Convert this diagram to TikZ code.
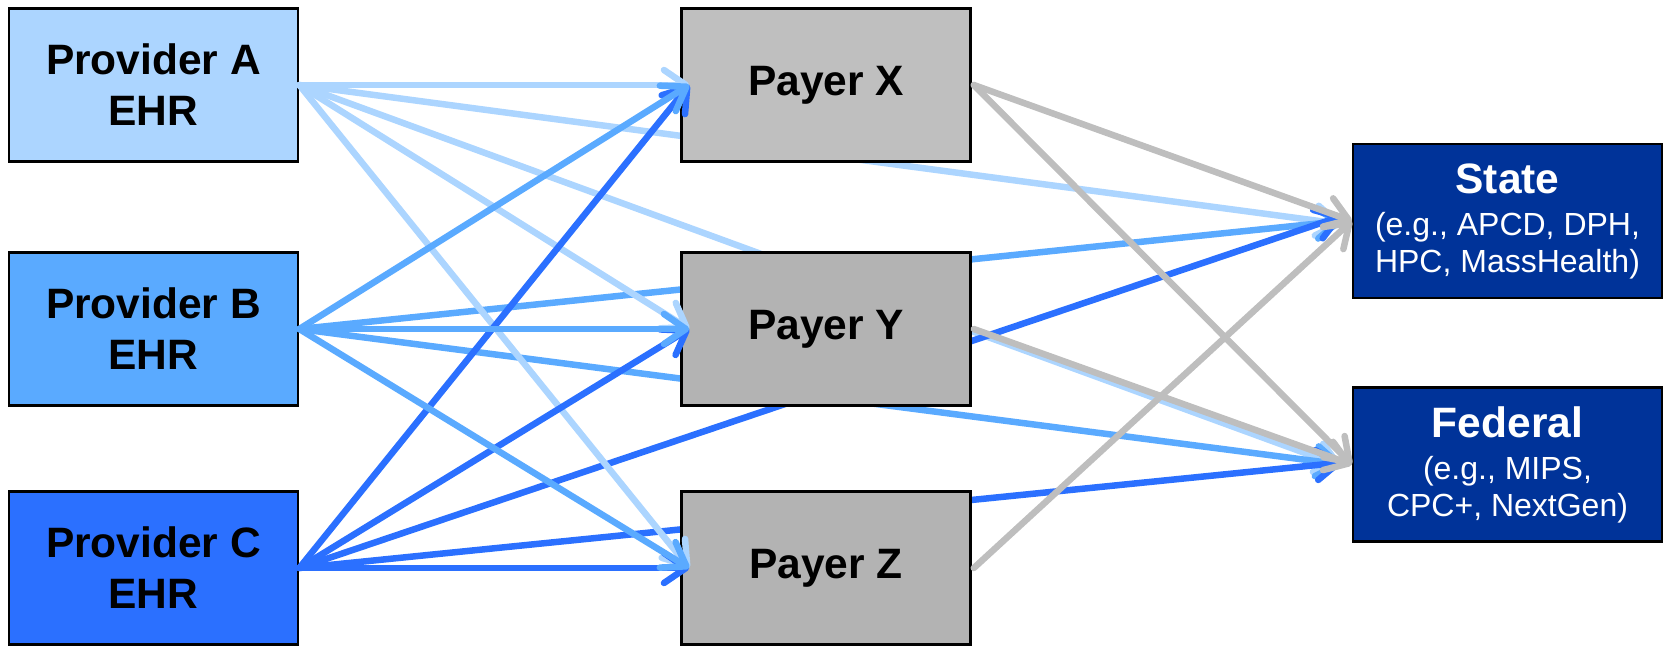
\documentclass[tikz,border=0pt]{standalone}
\usepackage{fontspec}
\setmainfont{Liberation Sans}
\usetikzlibrary{arrows.meta}
\pgfdeclarelayer{bg}
\pgfdeclarelayer{fg}
\pgfsetlayers{bg,main,fg}

\definecolor{provA}{RGB}{172,213,255}
\definecolor{provB}{RGB}{90,170,255}
\definecolor{provC}{RGB}{43,112,255}
\definecolor{payX}{RGB}{191,191,191}
\definecolor{payYZ}{RGB}{179,179,179}
\definecolor{gov}{RGB}{0,51,153}
\definecolor{flowgray}{RGB}{190,190,190}

\tikzset{
  box/.style={draw=black, line width=2.6pt, minimum width=289pt, minimum height=153pt,
    inner sep=0pt, align=center, font=\fontsize{42.5}{51}\selectfont\bfseries},
  govbox/.style={draw=black, line width=2.4pt, fill=gov, text=white, minimum width=309pt,
    minimum height=154pt, inner sep=0pt, align=center, font=\fontsize{32}{37}\selectfont},
  flow/.style={line width=6.5pt, line cap=round,
    -{Straight Barb[round, length=22pt, width=30pt]}},
  flowA/.style={flow, draw=provA},
  flowB/.style={flow, draw=provB},
  flowC/.style={flow, draw=provC},
  flowG/.style={flow, draw=flowgray},
}

\begin{document}
\begin{tikzpicture}[x=1pt, y=-1pt]
\useasboundingbox (0,0) rectangle (1671,657);

% providers
\node[box, fill=provA] (pa) at (153.5,85) {Provider A\\EHR};
\node[box, fill=provB] (pb) at (153.5,329) {Provider B\\EHR};
\node[box, fill=provC] (pc) at (153.5,568) {Provider C\\EHR};

% payers
\node[box, fill=payX]  (px) at (826,85)  {Payer X};
\node[box, fill=payYZ] (py) at (826,329) {Payer Y};
\node[box, fill=payYZ] (pz) at (826,568) {Payer Z};

% government bodies
\node[govbox] (st) at (1507.5,221)
  {{\fontsize{42.5}{42}\selectfont\bfseries State}\\[5pt](e.g., APCD, DPH,\\HPC, MassHealth)};
\node[govbox] (fe) at (1507.5,464.5)
  {{\fontsize{42.5}{42}\selectfont\bfseries Federal}\\[5pt](e.g., MIPS,\\CPC+, NextGen)};

% direct provider reporting, passing behind the payer boxes
\begin{pgfonlayer}{bg}
  \draw[flowA] (pa.east) -- ([xshift=-10pt,yshift=-3pt]st.west);
  \draw[flowA] (pa.east) -- ([xshift=-10pt,yshift=-2pt]fe.west);
  \draw[flowB] (pb.east) -- ([xshift=-10pt]st.west);
  \draw[flowB] (pb.east) -- ([xshift=-10pt]fe.west);
  \draw[flowC] (pc.east) -- ([xshift=-10pt,yshift=5pt]st.west);
  \draw[flowC] (pc.east) -- ([xshift=-10pt,yshift=2pt]fe.west);
\end{pgfonlayer}

% provider to payer feeds and payer to government feeds
\begin{pgfonlayer}{fg}
  \draw[flowA] (pa.east) -- ([xshift=9pt]px.west);
  \draw[flowA] (pa.east) -- ([xshift=9pt]py.west);
  \draw[flowA] (pa.east) -- ([xshift=9pt]pz.west);
  \draw[flowC] (pc.east) -- ([xshift=9pt]px.west);
  \draw[flowC] (pc.east) -- ([xshift=9pt]py.west);
  \draw[flowC] (pc.east) -- ([xshift=9pt]pz.west);
  \draw[flowB] (pb.east) -- ([xshift=9pt]px.west);
  \draw[flowB] (pb.east) -- ([xshift=9pt]py.west);
  \draw[flowB] (pb.east) -- ([xshift=9pt]pz.west);

  \draw[flowG] ([xshift=2pt]px.east) -- (st.west);
  \draw[flowG] ([xshift=2pt]px.east) -- (fe.west);
  \draw[flowG] ([xshift=2pt]py.east) -- (fe.west);
  \draw[flowG] ([xshift=2pt]pz.east) -- (st.west);
\end{pgfonlayer}
\end{tikzpicture}
\end{document}
